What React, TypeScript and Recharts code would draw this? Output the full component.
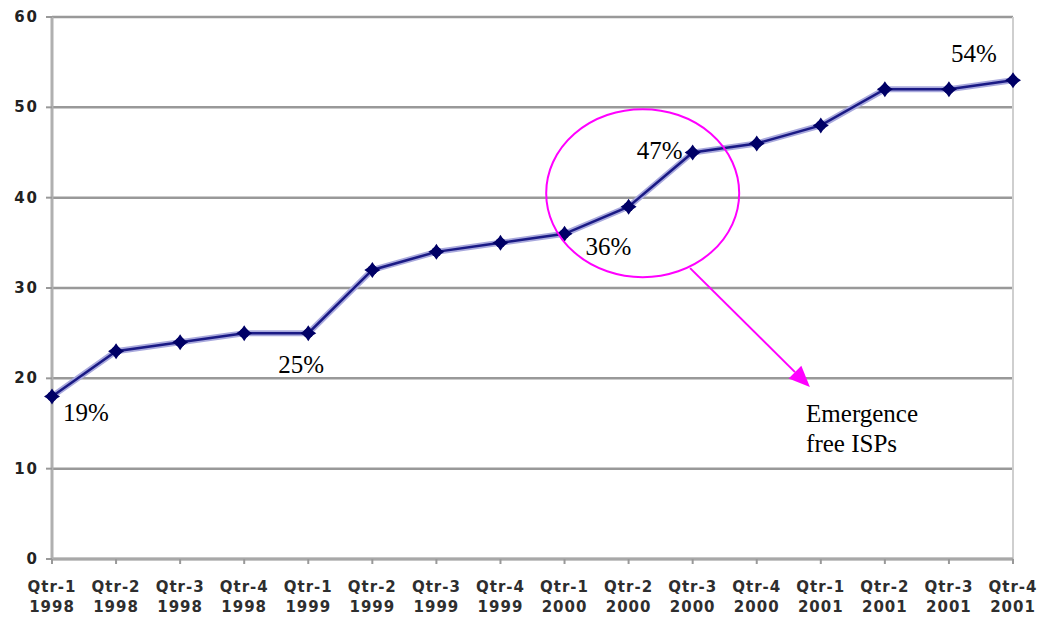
import React from 'react';
import {
  LineChart,
  Line,
  XAxis,
  YAxis,
  CartesianGrid,
  ReferenceDot,
  ReferenceLine,
} from 'recharts';

// Quarter labels (two lines each) and the share values plotted per quarter
const quarters = ['Qtr-1', 'Qtr-2', 'Qtr-3', 'Qtr-4', 'Qtr-1', 'Qtr-2', 'Qtr-3', 'Qtr-4', 'Qtr-1', 'Qtr-2', 'Qtr-3', 'Qtr-4', 'Qtr-1', 'Qtr-2', 'Qtr-3', 'Qtr-4'];
const years = ['1998', '1998', '1998', '1998', '1999', '1999', '1999', '1999', '2000', '2000', '2000', '2000', '2001', '2001', '2001', '2001'];
const values = [18, 23, 24, 25, 25, 32, 34, 35, 36, 39, 45, 46, 48, 52, 52, 53];
const yTicks = [0, 10, 20, 30, 40, 50, 60];

// Percentage callouts placed next to selected quarters
const callouts = [
  { i: 0, text: '19%' },
  { i: 4, text: '25%' },
  { i: 8, text: '36%' },
  { i: 10, text: '47%' },
  { i: 15, text: '54%' },
];
const calloutOffsets: Record<number, { dx: number; dy: number }> = {
  0: { dx: 34, dy: 25 },
  4: { dx: -7, dy: 40 },
  8: { dx: 44, dy: 21 },
  10: { dx: -33, dy: 6 },
  15: { dx: -39, dy: -18 },
};

// Highlight around the 2000 jump, arrow and note
const highlight = { x: 9.22, y: 40.5 };
const arrowFrom = { x: 9.96, y: 32.2 };
const arrowTo = { x: 11.83, y: 19.05 };
const noteAt = { x: 11.77, y: 15.17 };
const noteLines = ['Emergence', 'free ISPs'];

const data = values.map((v, i) => ({ idx: i, value: v }));
const xTicks = values.map((_, i) => i);

const MAGENTA = '#ff00ff';
const SERIF = '"Liberation Serif", "Times New Roman", serif';
const SANS = '"DejaVu Sans", Verdana, sans-serif';

const XTick = (props: any) => {
  const { x, y, payload } = props;
  const i = payload.value as number;
  const axisY = y - 8;
  return (
    <g>
      <line x1={x} y1={axisY} x2={x} y2={axisY + 5} stroke="#999" strokeWidth={2} />
      <text x={x} y={axisY + 33} textAnchor="middle" fontFamily={SANS} fontWeight="bold" fontSize={15} fill="#2e2e2e" letterSpacing={1}>
        {quarters[i]}
      </text>
      <text x={x} y={axisY + 53} textAnchor="middle" fontFamily={SANS} fontWeight="bold" fontSize={15} fill="#2e2e2e" letterSpacing={1}>
        {years[i]}
      </text>
    </g>
  );
};

const YTick = (props: any) => {
  const { x, y, payload } = props;
  const axisX = x + 8;
  return (
    <g>
      <line x1={axisX - 6} y1={y} x2={axisX} y2={y} stroke="#999" strokeWidth={2} />
      <text x={axisX - 13} y={y + 5} textAnchor="end" fontFamily={SANS} fontWeight="bold" fontSize={15} fill="#222" letterSpacing={2}>
        {payload.value}
      </text>
    </g>
  );
};

const Marker = (props: any) => {
  const { cx, cy, index } = props;
  if (cx == null || cy == null) return null;
  const s = 8;
  const k = 3.2;
  const d = `M${cx},${cy - s} L${cx + k},${cy - k} L${cx + s},${cy} L${cx + k},${cy + k} L${cx},${cy + s} L${cx - k},${cy + k} L${cx - s},${cy} L${cx - k},${cy - k} Z`;
  return (
    <g key={`m-${index}`}>
      <path d={d} fill="#000066" />
      <circle cx={cx} cy={cy} r={5} fill="#000066" />
    </g>
  );
};

const ArrowShape = (props: any) => {
  const { x1, y1, x2, y2 } = props;
  if ([x1, y1, x2, y2].some((v) => v == null || isNaN(v))) return null;
  const ang = Math.atan2(y2 - y1, x2 - x1);
  const len = 21;
  const half = 9;
  const bx = x2 - len * Math.cos(ang);
  const by = y2 - len * Math.sin(ang);
  const px = -Math.sin(ang) * half;
  const py = Math.cos(ang) * half;
  return (
    <g>
      <line x1={x1} y1={y1} x2={bx} y2={by} stroke={MAGENTA} strokeWidth={2} />
      <polygon points={`${x2},${y2} ${bx + px},${by + py} ${bx - px},${by - py}`} fill={MAGENTA} />
    </g>
  );
};

export default function App() {
  return (
    <div style={{ position: 'absolute', left: 0, top: 0, width: 1042, height: 619, background: '#fff' }}>
      <LineChart width={1042} height={619} data={data} margin={{ top: 17, right: 29, bottom: 0, left: 0 }}>
        <CartesianGrid horizontal vertical={false} stroke="#999" strokeWidth={2.5} />
        <XAxis
          dataKey="idx"
          type="number"
          domain={[0, 15]}
          ticks={xTicks}
          interval={0}
          height={60}
          axisLine={{ stroke: '#a8a8a8', strokeWidth: 3 }}
          tickLine={false}
          tick={<XTick />}
        />
        <YAxis
          domain={[0, 60]}
          ticks={yTicks}
          interval={0}
          width={52}
          axisLine={{ stroke: '#b0b0b0', strokeWidth: 3 }}
          tickLine={false}
          tick={<YTick />}
        />
        <ReferenceLine x={15} stroke="#cfcfcf" strokeWidth={2} />
        <Line
          dataKey="value"
          stroke="#a9a9dd"
          strokeWidth={6}
          dot={false}
          activeDot={false}
          isAnimationActive={false}
        />
        <Line
          dataKey="value"
          stroke="#1a1a85"
          strokeWidth={2.5}
          dot={<Marker />}
          activeDot={false}
          isAnimationActive={false}
        />
        {callouts.map((c) => (
          <ReferenceDot
            key={c.i}
            x={c.i}
            y={values[c.i]}
            ifOverflow="visible"
            shape={(p: any) => (
              <text
                x={p.cx + calloutOffsets[c.i].dx}
                y={p.cy + calloutOffsets[c.i].dy}
                textAnchor="middle"
                fontFamily={SERIF}
                fontSize={25}
                fill="#000"
              >
                {c.text}
              </text>
            )}
          />
        ))}
        <ReferenceDot
          x={highlight.x}
          y={highlight.y}
          ifOverflow="visible"
          shape={(p: any) => (
            <ellipse cx={p.cx} cy={p.cy} rx={96.5} ry={84} fill="none" stroke={MAGENTA} strokeWidth={2} />
          )}
        />
        <ReferenceLine
          segment={[arrowFrom, arrowTo]}
          ifOverflow="visible"
          shape={<ArrowShape />}
        />
        <ReferenceDot
          x={noteAt.x}
          y={noteAt.y}
          ifOverflow="visible"
          shape={(p: any) => (
            <text x={p.cx} y={p.cy} fontFamily={SERIF} fontSize={25} fill="#000">
              {noteLines.map((t, k) => (
                <tspan key={k} x={p.cx} dy={k === 0 ? 0 : 30}>
                  {t}
                </tspan>
              ))}
            </text>
          )}
        />
      </LineChart>
    </div>
  );
}
